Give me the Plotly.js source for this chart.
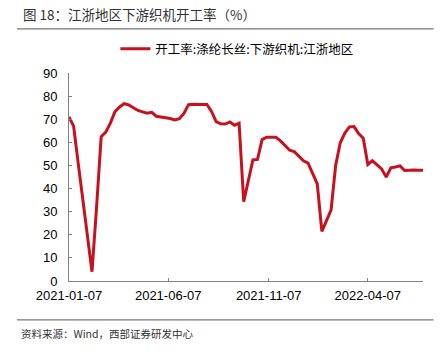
<!DOCTYPE html>
<html>
<head>
<meta charset="utf-8">
<script src="https://cdn.plot.ly/plotly-3.0.1.min.js"></script>
<style>html,body{margin:0;padding:0;background:#fff;}#chart{width:444px;height:355px;}</style>
</head>
<body>
<div id="chart"></div>
<script>
// Weekly series starting 2021-01-07
const startDate = "2021-01-07";
const seriesName = "开工率:涤纶长丝:下游织机:江浙地区";
const values = [
  71, 67, 51, 35, 18, 4, 32, 62.5, 64.4, 68.3,
  73.3, 75.3, 76.7, 76.2, 75, 73.8, 73.2, 72.6, 73.0, 71.3,
  71.0, 70.8, 70.3, 69.7, 70.2, 72.5, 76.3, 76.5, 76.6, 76.4,
  76.4, 73.4, 69.0, 68.0, 67.9, 68.8, 67.4, 68.3, 34.3, 44,
  52.4, 52.6, 61.2, 62.2, 62.2, 62.2, 60.6, 58.6, 56.6, 56.0,
  54.2, 52.0, 51.0, 46.7, 42.0, 21.5, 26, 30.7, 50, 59.8,
  64, 66.7, 66.8, 63.8, 61.8, 50.4, 52.0, 50.4, 48.5, 45,
  49, 49.3, 49.8, 47.8, 48.0, 48.0, 47.9, 47.9
];
const tickDates = ["2021-01-07", "2021-06-07", "2021-11-07", "2022-04-07"];
const yTicks = [0, 10, 20, 30, 40, 50, 60, 70, 80, 90];

function addDays(s, n) {
  const d = new Date(s + "T00:00:00Z");
  d.setUTCDate(d.getUTCDate() + n);
  return d.toISOString().slice(0, 10);
}
const dates = values.map((_, i) => addDays(startDate, 7 * i));

const trace = {
  x: dates, y: values, type: "scatter", mode: "lines", name: seriesName,
  line: {color: "#C8111E", width: 3}
};

const layout = {
  width: 444, height: 355,
  margin: {l: 69, r: 21, t: 73, b: 74},
  paper_bgcolor: "#fff", plot_bgcolor: "#fff",
  font: {family: "Liberation Sans, Arial, sans-serif", color: "#000", size: 13},
  showlegend: true,
  legend: {
    orientation: "h", x: 0.131, y: 1.115, xanchor: "left", yanchor: "middle",
    font: {family: "Noto Sans CJK SC", size: 12.5, color: "#000"},
    bgcolor: "rgba(0,0,0,0)"
  },
  xaxis: {
    type: "date", range: [dates[0], dates[dates.length - 1]],
    tickvals: tickDates, ticktext: tickDates,
    showgrid: false, zeroline: false, showline: true, linecolor: "#808080", linewidth: 1,
    ticks: "inside", ticklen: 3, tickcolor: "#808080",
    ticklabelstandoff: 2,
    tickfont: {size: 13, color: "#000"}
  },
  yaxis: {
    range: [0, 90], tickvals: yTicks,
    showgrid: false, zeroline: false, showline: true, linecolor: "#808080", linewidth: 1,
    ticks: "inside", ticklen: 3, tickcolor: "#808080",
    ticklabelstandoff: 8,
    tickfont: {size: 13, color: "#000"}
  },
  shapes: [
    {type: "line", xref: "paper", yref: "paper", x0: -0.147, x1: 1.03, y0: 1.212, y1: 1.212,
     line: {color: "#555", width: 1}},
    {type: "line", xref: "paper", yref: "paper", x0: -0.147, x1: 1.03, y0: -0.187, y1: -0.187,
     line: {color: "#555", width: 1}}
  ],
  annotations: [
    {text: "图 18：江浙地区下游织机开工率（%）", xref: "paper", yref: "paper",
     x: -0.135, y: 1.285, xanchor: "left", yanchor: "middle", showarrow: false,
     font: {family: "Noto Sans CJK SC", size: 13.5, color: "#333"}},
    {text: "资料来源：Wind，西部证券研发中心", xref: "paper", yref: "paper",
     x: -0.141, y: -0.25, xanchor: "left", yanchor: "middle", showarrow: false,
     font: {family: "Noto Sans CJK SC", size: 10.5, color: "#333"}}
  ]
};

Plotly.newPlot("chart", [trace], layout, {displayModeBar: false, staticPlot: true});
</script>
</body>
</html>
